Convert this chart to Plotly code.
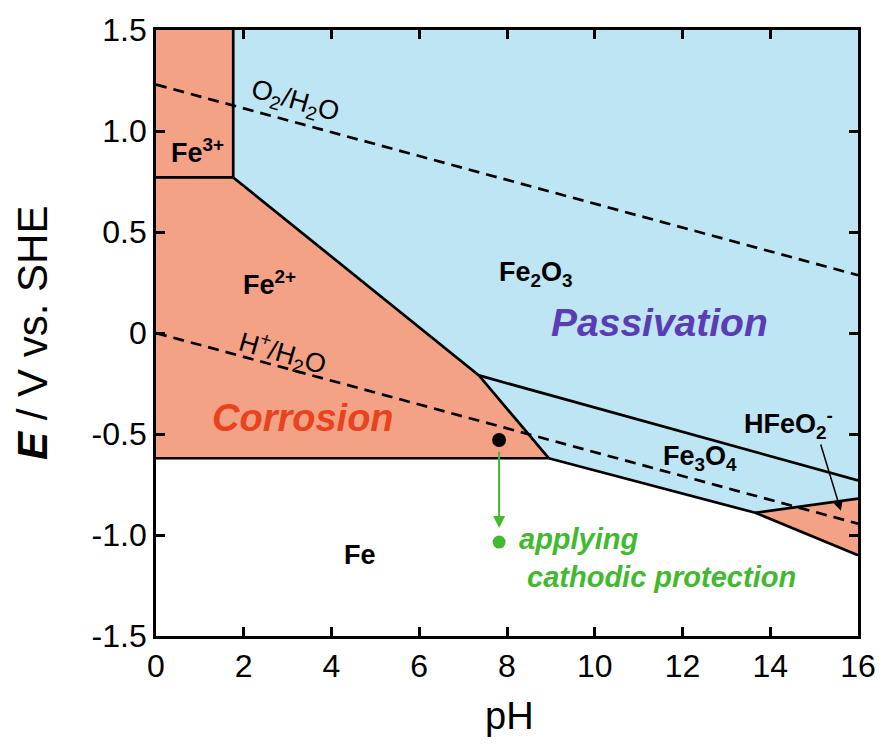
import plotly.graph_objects as go

# ---- data (pH, E / V vs SHE) ----
fe3_x = [0, 1.76, 1.76, 0]
fe3_y = [0.77, 0.77, 1.5, 1.5]
fe2_x = [0, 1.76, 7.36, 8.95, 0]
fe2_y = [0.77, 0.77, -0.21, -0.62, -0.62]
fe2o3_x = [1.76, 1.76, 7.36, 16, 16]
fe2o3_y = [1.5, 0.77, -0.21, -0.73, 1.5]
fe3o4_x = [7.36, 16, 16, 13.66, 8.95]
fe3o4_y = [-0.21, -0.73, -0.82, -0.89, -0.62]
hfeo2_x = [13.66, 16, 16]
hfeo2_y = [-0.89, -0.82, -1.10]

# boundary lines
boundaries = [
    ([0, 1.76], [0.77, 0.77]),
    ([1.76, 1.76], [0.77, 1.5]),
    ([1.76, 7.36, 8.95], [0.77, -0.21, -0.62]),
    ([7.36, 16], [-0.21, -0.73]),
    ([0, 8.95], [-0.62, -0.62]),
    ([8.95, 13.66, 16], [-0.62, -0.89, -1.10]),
    ([13.66, 16], [-0.89, -0.82]),
]

# water stability lines
o2_x, o2_y = [0, 16], [1.23, 0.286]
h2_x, h2_y = [0, 16], [0.0, -0.944]

# points
black_pt = (7.82, -0.53)
green_pt = (7.82, -1.035)
green_arrow_start = (7.82, -0.58)
green_arrow_end = (7.82, -0.965)
hfe_arrow_tail = (15.14, -0.545)
hfe_arrow_head = (15.61, -0.88)

xticks = [0, 2, 4, 6, 8, 10, 12, 14, 16]
yticks = [1.5, 1.0, 0.5, 0, -0.5, -1.0, -1.5]
yticktext = ["1.5", "1.0", "0.5", "0", "-0.5", "-1.0", "-1.5"]

SALMON = "#F4A285"
BLUE = "#BEE5F3"
GREEN = "#43B92F"
FONT = "Arial, Liberation Sans, sans-serif"

fig = go.Figure()

for xs, ys, col in [(fe3_x, fe3_y, SALMON), (fe2_x, fe2_y, SALMON),
                    (fe2o3_x, fe2o3_y, BLUE), (fe3o4_x, fe3o4_y, BLUE),
                    (hfeo2_x, hfeo2_y, SALMON)]:
    fig.add_trace(go.Scatter(x=xs + [xs[0]], y=ys + [ys[0]], mode="lines",
                             fill="toself", fillcolor=col,
                             line=dict(width=0, color=col),
                             hoverinfo="skip", showlegend=False))

for xs, ys in boundaries:
    fig.add_trace(go.Scatter(x=xs, y=ys, mode="lines",
                             line=dict(color="black", width=2.7),
                             hoverinfo="skip", showlegend=False))

for xs, ys in [(o2_x, o2_y), (h2_x, h2_y)]:
    fig.add_trace(go.Scatter(x=xs, y=ys, mode="lines",
                             line=dict(color="black", width=2.7, dash="11px,7px"),
                             hoverinfo="skip", showlegend=False))

fig.add_trace(go.Scatter(x=[black_pt[0]], y=[black_pt[1]], mode="markers",
                         marker=dict(color="black", size=14),
                         hoverinfo="skip", showlegend=False))
fig.add_trace(go.Scatter(x=[green_pt[0]], y=[green_pt[1]], mode="markers",
                         marker=dict(color=GREEN, size=13),
                         hoverinfo="skip", showlegend=False))

ann = []
def label(x, y, text, size=27, color="black", angle=0, xanchor="center", align="center"):
    ann.append(dict(x=x, y=y, xref="x", yref="y", text=text, showarrow=False,
                    textangle=angle, xanchor=xanchor, yanchor="middle", align=align,
                    font=dict(family=FONT, size=size, color=color)))

label(0.95, 0.90, "<b>Fe<sup>3+</sup></b>")
label(2.59, 0.25, "<b>Fe<sup>2+</sup></b>")
label(8.66, 0.29, "<b>Fe<sub>2</sub>O<sub>3</sub></b>")
label(12.41, -0.62, "<b>Fe<sub>3</sub>O<sub>4</sub></b>")
label(14.41, -0.45, "<b>HFeO<sub>2</sub><sup>-</sup></b>")
label(4.64, -1.10, "<b>Fe</b>")
label(11.48, 0.05, "<b><i>Passivation</i></b>", size=39, color="#5A3DB5")
label(3.36, -0.42, "<b><i>Corrosion</i></b>", size=38, color="#E8431C")
label(3.16, 1.145, "O<sub>2</sub>/H<sub>2</sub>O", size=27, angle=16)
label(2.89, -0.10, "H<sup>+</sup>/H<sub>2</sub>O", size=27, angle=16)
label(8.22, -1.115, "<b><i>applying<br> cathodic protection</i></b>",
      size=29, color=GREEN, xanchor="left", align="left")

ann.append(dict(x=hfe_arrow_head[0], y=hfe_arrow_head[1], xref="x", yref="y",
                ax=hfe_arrow_tail[0], ay=hfe_arrow_tail[1], axref="x", ayref="y",
                showarrow=True, arrowhead=2, arrowsize=1.2, arrowwidth=1.5,
                arrowcolor="black", text=""))
ann.append(dict(x=green_arrow_end[0], y=green_arrow_end[1], xref="x", yref="y",
                ax=green_arrow_start[0], ay=green_arrow_start[1], axref="x", ayref="y",
                showarrow=True, arrowhead=2, arrowsize=1.2, arrowwidth=2,
                arrowcolor=GREEN, text=""))

# axis titles
ann.append(dict(x=0, y=0.5, xref="paper", yref="paper", xshift=-124,
                text="<b><i>E</i></b> / V vs. SHE", textangle=-90, showarrow=False,
                xanchor="center", yanchor="middle",
                font=dict(family=FONT, size=42, color="black")))
ann.append(dict(x=0.503, y=0, xref="paper", yref="paper", yshift=-80,
                text="pH", showarrow=False, xanchor="center", yanchor="middle",
                font=dict(family=FONT, size=38, color="black")))

fig.update_layout(
    width=888, height=749,
    margin=dict(l=156, r=28, t=29, b=113),
    paper_bgcolor="white", plot_bgcolor="white",
    annotations=ann,
    showlegend=False,
)
fig.update_xaxes(range=[0, 16], tickvals=xticks, ticks="inside", ticklen=9,
                 tickwidth=2.5, tickcolor="black", showline=True, linewidth=2.7,
                 linecolor="black", mirror="allticks", showgrid=False,
                 zeroline=False, tickfont=dict(family=FONT, size=32, color="black"))
fig.update_yaxes(range=[-1.5, 1.5], tickvals=yticks, ticktext=yticktext,
                 ticks="inside", ticklen=9, tickwidth=2.5, tickcolor="black",
                 showline=True, linewidth=2.7, linecolor="black", mirror="allticks",
                 showgrid=False, zeroline=False,
                 tickfont=dict(family=FONT, size=32, color="black"))

fig.write_html("out.html")
